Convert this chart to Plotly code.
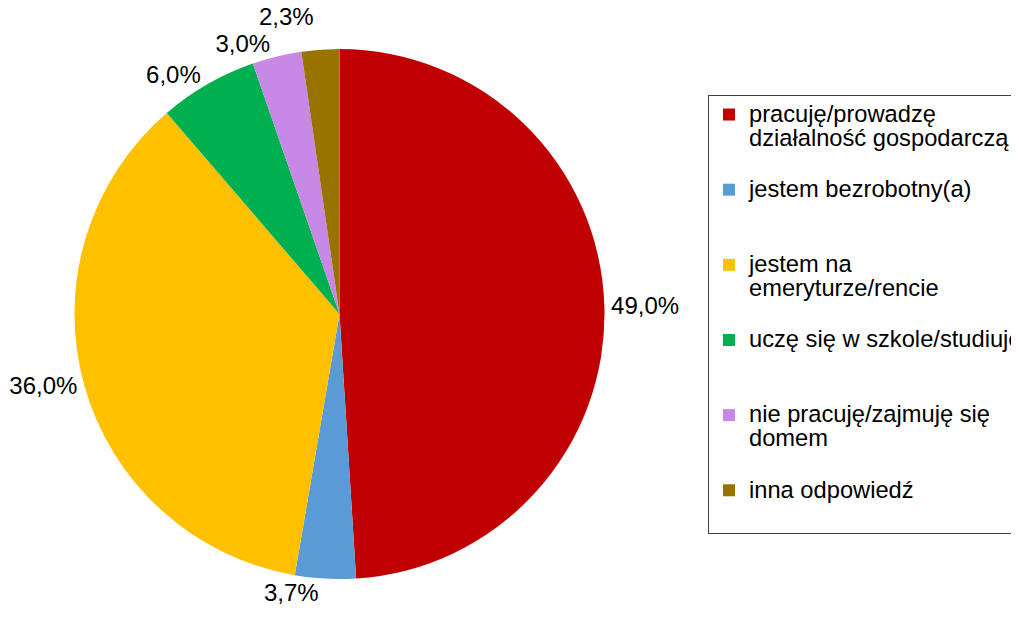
import plotly.graph_objects as go

# Legend labels, line breaks as in the original legend
categories = [
    "pracuję/prowadzę<br>działalność gospodarczą",
    "jestem bezrobotny(a)",
    "jestem na<br>emeryturze/rencie",
    "uczę się w szkole/studiuję",
    "nie pracuję/zajmuję się<br>domem",
    "inna odpowiedź",
]
values = [49.0, 3.7, 36.0, 6.0, 3.0, 2.3]
colours = ["#C00000", "#5B9BD5", "#FFC000", "#00B050", "#C888E6", "#997300"]

FONT = "Liberation Sans, Arial"
W, H = 1060, 600  # wider than the window so the legend box runs off the right edge

# pad legend entries with blank lines so they are evenly spaced like the original
legend_labels = []
for i, cat in enumerate(categories):
    lines = ['<span style="font-size:23.7px">%s</span>' % part for part in cat.split("<br>")]
    n_lines = 3 if i < len(categories) - 1 else 2
    while len(lines) < n_lines:
        lines.append(" ")
    legend_labels.append("<br>".join(lines))

fig = go.Figure(
    go.Pie(
        labels=legend_labels,
        values=values,
        sort=False,
        direction="clockwise",
        rotation=0,
        marker=dict(colors=colours, line=dict(width=0)),
        textposition="outside",
        # label colour set in the span; font colour white so the leader line disappears
        texttemplate='<span style="color:#000000">%{value:.1f}%</span>',
        textfont=dict(family=FONT, size=24, color="#FFFFFF"),
        outsidetextfont=dict(family=FONT, size=24, color="#FFFFFF"),
        domain=dict(x=[66 / W, 597 / W], y=[1 - 571 / H, 1 - 41 / H]),
        hoverinfo="percent",
    )
)

fig.update_layout(
    width=W,
    height=H,
    margin=dict(l=0, r=0, t=0, b=0, autoexpand=False),
    paper_bgcolor="white",
    plot_bgcolor="white",
    separators=", ",
    font=dict(family=FONT, size=23, color="#000000"),
    showlegend=True,
    legend=dict(
        x=700 / W,
        y=1 - 87 / H,
        xanchor="left",
        yanchor="top",
        valign="top",
        bordercolor="#404040",
        borderwidth=1,
        bgcolor="white",
        itemwidth=30,
        font=dict(family=FONT, size=18.5, color="#000000"),
    ),
)

fig.write_html("out.html")
